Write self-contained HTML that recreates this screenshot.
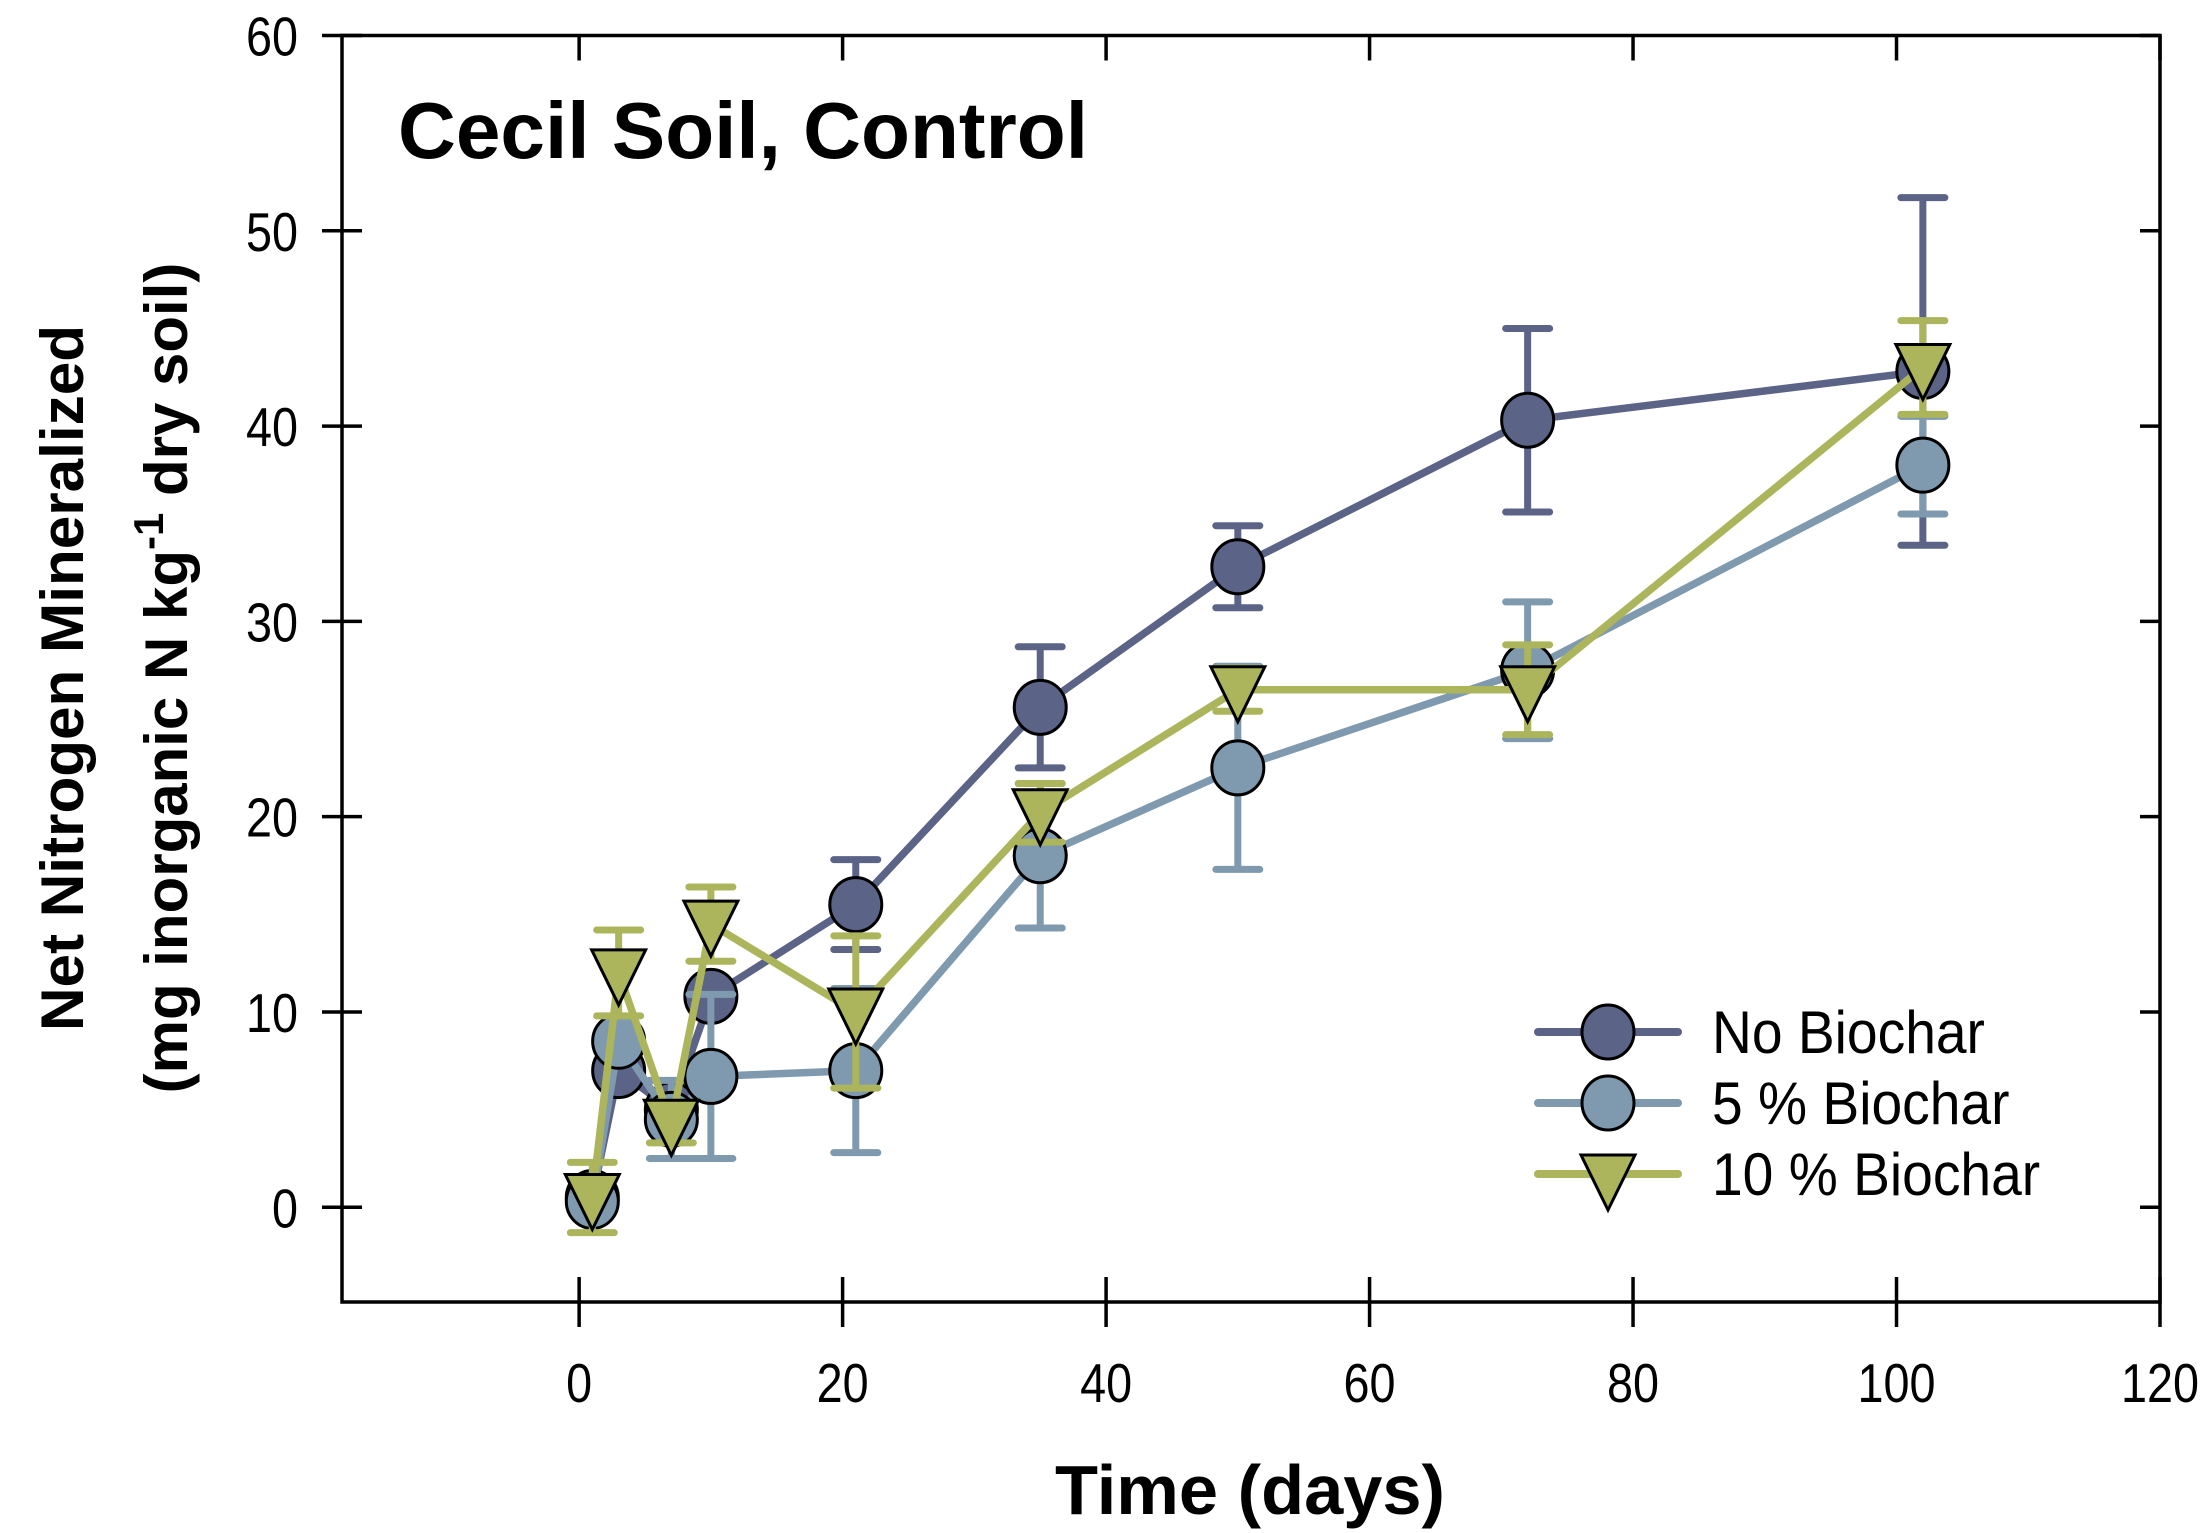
<!DOCTYPE html>
<html><head><meta charset="utf-8"><style>
html,body{margin:0;padding:0;background:#fff}
svg{display:block}
text{font-family:"Liberation Sans",Arial,sans-serif}
</style></head><body>
<svg id="chart" width="2212" height="1533" viewBox="0 0 2212 1533" xmlns="http://www.w3.org/2000/svg">
<g id="axes"></g>
<g id="series"></g>
<text x="398" y="158" font-size="80" font-weight="bold" textLength="690" lengthAdjust="spacingAndGlyphs">Cecil Soil, Control</text>
<text x="1250" y="1514" font-size="70" font-weight="bold" text-anchor="middle" textLength="390" lengthAdjust="spacingAndGlyphs">Time (days)</text>
<g transform="translate(0,678) rotate(-90)">
<text x="0" y="83" font-size="60" font-weight="bold" text-anchor="middle" textLength="706" lengthAdjust="spacingAndGlyphs">Net Nitrogen Mineralized</text>
<text x="0" y="187" font-size="60" font-weight="bold" text-anchor="middle">(mg inorganic N kg<tspan dy="-24" font-size="42">-1</tspan><tspan dy="24"> dry soil)</tspan></text>
</g>
<g id="legend"></g>
</svg>
<script>
const days = [1, 3, 7, 10, 21, 35, 50, 72, 102];
const noBiochar = [0.5, 7.0, 5.0, 10.8, 15.5, 25.6, 32.8, 40.3, 42.8];
const noBiocharErr = [0.5, 0.5, 0.5, 0.5, 2.3, 3.1, 2.1, 4.7, 8.9];
const biochar5 = [0.3, 8.5, 4.5, 6.7, 7.0, 18.0, 22.5, 27.5, 38.0];
const biochar5Err = [0.5, 0.5, 2.0, 4.2, 4.2, 3.7, 5.2, 3.5, 2.5];
const biochar10 = [0.5, 12.0, 4.3, 14.5, 10.0, 20.2, 26.5, 26.5, 43.0];
const biochar10Err = [1.8, 2.2, 1.0, 1.9, 3.9, 1.5, 1.1, 2.3, 2.4];
const xTicks = [0, 20, 40, 60, 80, 100, 120];
const yTicks = [0, 10, 20, 30, 40, 50, 60];
const seriesNames = ["No Biochar", "5 % Biochar", "10 % Biochar"];

const NS = "http://www.w3.org/2000/svg";
const L = 342, R = 2160, T = 35.5, B = 1302;
const xMin = -18, xMax = 120, yMin = -4.85, yMax = 60;
const sx = v => L + (v - xMin) / (xMax - xMin) * (R - L);
const sy = v => B - (v - yMin) / (yMax - yMin) * (B - T);
function mk(tag, attrs, parent) {
  const e = document.createElementNS(NS, tag);
  for (const k in attrs) e.setAttribute(k, attrs[k]);
  parent.appendChild(e);
  return e;
}
const axes = document.getElementById('axes');
const frame = mk('rect', {x: L, y: T, width: R - L, height: B - T, fill: 'none', stroke: '#000', 'stroke-width': 3.5}, axes);


xTicks.forEach(t => {
  const x = sx(t);
  const tk = mk('line', {x1: x, x2: x, y1: B - 25, y2: B + 25, stroke: '#000', 'stroke-width': 3.5}, axes);
  
  
  const tt = mk('line', {x1: x, x2: x, y1: T, y2: T + 25, stroke: '#000', 'stroke-width': 3.5}, axes);
  
  
  const lb = mk('text', {x: x, y: 1402, 'font-size': 55, 'text-anchor': 'middle', transform: `translate(${x},0) scale(0.85,1) translate(${-x},0)`}, axes);
  lb.textContent = t;
  
  
});
yTicks.forEach(t => {
  const y = sy(t);
  const tk = mk('line', {x1: L - 20, x2: L + 20, y1: y, y2: y, stroke: '#000', 'stroke-width': 3.5}, axes);
  
  
  const tr = mk('line', {x1: R - 20, x2: R, y1: y, y2: y, stroke: '#000', 'stroke-width': 3.5}, axes);
  
  
  const lb = mk('text', {x: 298, y: y + 20, 'font-size': 55, 'text-anchor': 'end', transform: `translate(298,0) scale(0.85,1) translate(-298,0)`}, axes);
  lb.textContent = t;
  
  
});

const colors = ['#5b6387', '#7f9aae', '#acb55c'];
const vals = [noBiochar, biochar5, biochar10];
const errs = [noBiocharErr, biochar5Err, biochar10Err];
const shapes = ['circle', 'circle', 'tri'];
const seriesG = document.getElementById('series');
function marker(shape, x, y, color, parent) {
  let m;
  if (shape === 'circle') {
    m = mk('ellipse', {cx: x, cy: y, rx: 26, ry: 27, fill: color, stroke: '#000', 'stroke-width': 3}, parent);
  } else {
    m = mk('polygon', {points: `${x-27},${y-23} ${x+27},${y-23} ${x},${y+32}`, fill: color, stroke: '#000', 'stroke-width': 3, 'stroke-linejoin': 'miter'}, parent);
  }
  return m;
}
const groups = [];
vals.forEach((v, s) => {
  const g = mk('g', {}, seriesG);
  
  
  groups.push(g);
});
vals.forEach((v, s) => {
  const g = groups[s];
  days.forEach((d, i) => {
    const x = sx(d), y1 = sy(v[i] + errs[s][i]), y2 = sy(v[i] - errs[s][i]);
    const eb = mk('path', {d: `M${x},${y1}V${y2}M${x-22},${y1}H${x+22}M${x-22},${y2}H${x+22}`, stroke: colors[s], 'stroke-width': 7, fill: 'none', 'stroke-linecap': 'round'}, g);
    
    
  });
  const ln = mk('polyline', {points: days.map((d, i) => sx(d) + ',' + sy(v[i])).join(' '), fill: 'none', stroke: colors[s], 'stroke-width': 7.5, 'stroke-linejoin': 'round'}, g);
  
  
});
vals.forEach((v, s) => {
  days.forEach((d, i) => {
    const m = marker(shapes[s], sx(d), sy(v[i]), colors[s], groups[s]);
    
    
  });
});

const leg = document.getElementById('legend');
const rowY = [1032, 1103, 1174];
seriesNames.forEach((n, s) => {
  const y = rowY[s];
  const g = mk('g', {}, leg);
  
  
  const ln = mk('line', {x1: 1538, x2: 1678, y1: y, y2: y, stroke: colors[s], 'stroke-width': 8, 'stroke-linecap': 'round'}, g);
  
  
  const m = marker(shapes[s], 1608, y + (shapes[s] === 'tri' ? 4 : 0), colors[s], g);
  
  
  const t = mk('text', {x: 1712, y: y + 21, 'font-size': 60, transform: 'translate(1712,0) scale(0.92,1) translate(-1712,0)'}, g);
  t.textContent = n;
  
  
});
</script>
</body></html>
